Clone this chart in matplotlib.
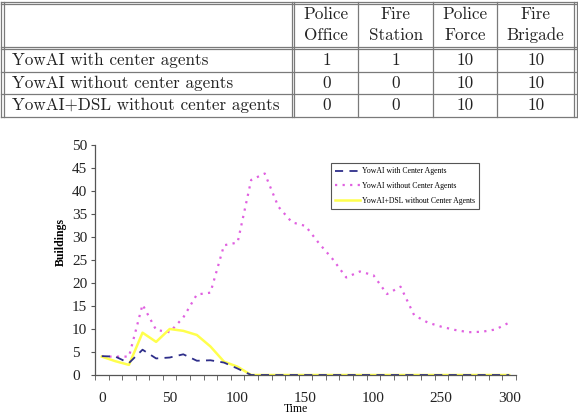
import matplotlib
matplotlib.use("Agg")
import matplotlib.pyplot as plt
import numpy as np

# table contents
col_head = [("Police", "Office"), ("Fire", "Station"), ("Police", "Force"), ("Fire", "Brigade")]
row_names = ["YowAI with center agents", "YowAI without center agents", "YowAI+DSL without center agents"]
cells = [["1", "1", "10", "10"],
         ["0", "0", "10", "10"],
         ["0", "0", "10", "10"]]

# chart data, sampled every 10 time steps
t = list(range(0, 310, 10))
with_center = [4.1, 4.0, 2.6, 5.5, 3.6, 3.8, 4.5, 3.1, 3.2, 2.7, 1.4, 0, 0, 0, 0, 0,
               0, 0, 0, 0, 0, 0, 0, 0, 0, 0, 0, 0, 0, 0, 0]
without_center = [4.0, 4.0, 4.0, 15.3, 9.8, 9.3, 12.5, 17.5, 17.9, 28.2, 28.8, 42.4, 43.8, 36.6, 33.2, 32.4,
                  28.6, 25.2, 21.2, 22.5, 21.7, 17.6, 19.2, 13.0, 11.4, 10.5, 9.8, 9.3, 9.4, 9.9, 11.4]
dsl_without = [4.0, 3.0, 2.2, 9.2, 7.2, 10.0, 9.6, 8.7, 6.2, 2.9, 1.8, 0, 0, 0, 0, 0,
               0, 0, 0, 0, 0, 0, 0, 0, 0, 0, 0, 0, 0, 0, 0]
xtick_pos = [0, 50, 100, 150, 200, 250, 300]
xtick_lab = ["0", "50", "100", "150", "100", "250", "300"]

W, H = 578, 418
fig = plt.figure(figsize=(W / 100, H / 100), dpi=100)

# ---- table drawn in pixel coords ----
tab = fig.add_axes([0, 0, 1, 1])
tab.set_xlim(0, W)
tab.set_ylim(H, 0)
tab.axis("off")
lc = "#7a7a7a"
x_left, x_right = 1.3, 576.5
top_y, bot_y = 1.5, 116.5
for y in [1.5, 3.8, 46.7, 49.3, 71.8, 94.3, 116.5]:
    tab.plot([x_left, x_right], [y, y], color=lc, lw=0.9)
for x in [1.3, 3.5, 292.0, 294.3, 358.3, 433.3, 497.3, 574.2, 576.5]:
    tab.plot([x, x], [top_y, bot_y], color=lc, lw=0.9)

tfont = dict(family="cmr10", fontsize=12.3, color="#222222")
col_cx = [326.3, 395.8, 465.3, 535.7]
for cx, (l1, l2) in zip(col_cx, col_head):
    tab.text(cx, 14, l1, ha="center", va="center", **tfont)
    tab.text(cx, 35.5, l2, ha="center", va="center", **tfont)
row_cy = [60.5, 83, 105.5]
for cy, name, vals in zip(row_cy, row_names, cells):
    tab.text(12.5, cy, name, ha="left", va="center", **tfont)
    for cx, v in zip(col_cx, vals):
        tab.text(cx, cy, v, ha="center", va="center", **tfont)

# ---- line chart ----
ax = fig.add_axes([95 / W, 1 - 375 / H, 421 / W, 230 / H])
ax.plot(t, without_center, color="#e060e0", lw=1.6, ls=(0, (1, 2.4)), label="YowAI without Center Agents")
ax.plot(t, dsl_without, color="#ffff4d", lw=1.8, label="YowAI+DSL without Center Agents")
ax.plot(t, with_center, color="#2e2e8a", lw=1.3, ls=(0, (4.5, 3.5)), label="YowAI with Center Agents")

ax.set_xlim(-5, 305)
ax.set_ylim(0, 50)
for s in ["top", "right"]:
    ax.spines[s].set_visible(False)
for s in ["left", "bottom"]:
    ax.spines[s].set_color("#555555")
    ax.spines[s].set_linewidth(0.9)

ax.set_xticks(xtick_pos)
ax.set_xticklabels(xtick_lab)
ax.set_xticks(np.arange(-5, 306, 10), minor=True)
ax.tick_params(axis="x", which="major", length=0, pad=12)
ax.tick_params(axis="x", which="minor", length=3.5, color="#555555", direction="out")
ax.set_yticks(np.arange(0, 51, 5))
ax.tick_params(axis="y", length=3, color="#555555", pad=13.5)
for lab in ax.get_xticklabels() + ax.get_yticklabels():
    lab.set_family("Liberation Serif")
    lab.set_fontsize(11)
    lab.set_color("#222222")
for lab in ax.get_yticklabels():
    lab.set_horizontalalignment("left")

ax.set_xlabel("Time", family="Liberation Serif", fontsize=8.5)
ax.xaxis.set_label_coords((296 - 95) / 421, -(403 - 375) / 230)
ax.set_ylabel("Buildings", family="Liberation Serif", fontsize=8.5, fontweight="bold")
ax.yaxis.set_label_coords(-(95 - 67) / 421, (375 - 242) / 230)

h, l = ax.get_legend_handles_labels()
order = [2, 0, 1]
leg = ax.legend([h[i] for i in order], [l[i] for i in order], loc="upper left",
                bbox_to_anchor=((330.7 - 95) / 421, (375 - 162.7) / 230),
                prop={"family": "Liberation Serif", "size": 5.6}, fancybox=False,
                edgecolor="#555555", framealpha=1, handlelength=3.2, handletextpad=0.2,
                borderpad=0.6, labelspacing=0.85, borderaxespad=0)
leg.get_frame().set_linewidth(0.8)

fig.savefig("out.png", dpi=100)
